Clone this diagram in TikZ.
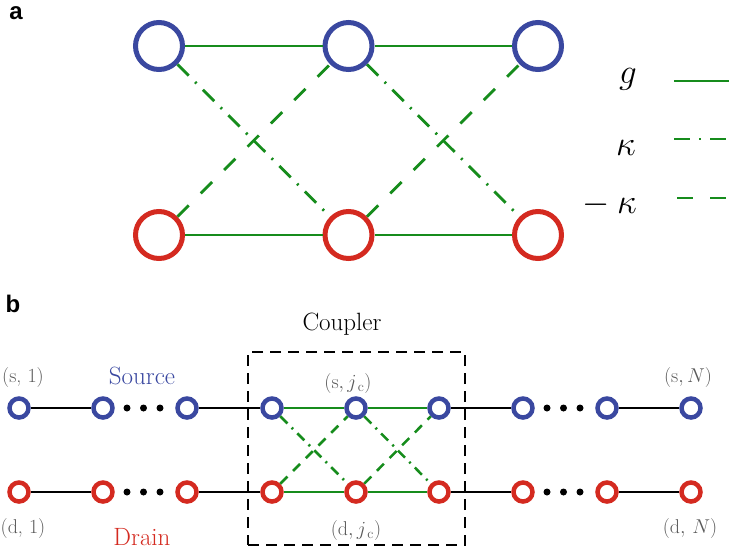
\RequirePackage{fix-cm}
\documentclass[tikz,border=0pt]{standalone}
\usepackage{fontspec}
\newfontfamily\labelfont{Liberation Sans}
\definecolor{nblue}{RGB}{58,72,160}
\definecolor{nred}{RGB}{212,42,32}
\definecolor{ngreen}{RGB}{22,140,28}
\definecolor{ngray}{RGB}{90,90,90}
\tikzset{
  ca/.style={circle, draw, line width=5pt, minimum size=47pt, inner sep=0pt},
  cb/.style={circle, draw, line width=4.5pt, minimum size=19pt, inner sep=0pt},
  gline/.style={draw=ngreen, line width=2.8pt},
  kap/.style={gline, dash pattern=on 16pt off 9pt on 2pt off 9pt},
  mkap/.style={gline, dash pattern=on 16pt off 17pt},
  gbl/.style={draw=ngreen, line width=2.5pt},
  kapb/.style={gbl, dash pattern=on 10pt off 6pt on 2pt off 6pt},
  mkapb/.style={gbl, dash pattern=on 10pt off 8pt},
  blk/.style={draw=black, line width=2.8pt},
  panel/.style={font=\labelfont\bfseries\fontsize{24}{26}\selectfont, anchor=base, inner sep=0pt},
  sym/.style={font=\fontsize{35}{40}\selectfont, anchor=base, inner sep=0pt},
  idx/.style={font=\fontsize{20}{24}\selectfont, text=ngray, anchor=base, inner sep=0pt},
  big/.style={font=\fontsize{25}{30}\selectfont, anchor=base, inner sep=0pt},
  dotb/.style={circle, fill=black, minimum size=7pt, inner sep=0pt},
}
\begin{document}
\begin{tikzpicture}[x=1pt, y=-1pt]
\useasboundingbox (0,0) rectangle (729,550);
% ---------- panel a ----------
\node[panel] (la) at (16,19) {a};
\node[ca, draw=nblue] (t1) at (159,46) {};
\node[ca, draw=nblue] (t2) at (348.5,46) {};
\node[ca, draw=nblue] (t3) at (538,46) {};
\node[ca, draw=nred] (u1) at (159,235) {};
\node[ca, draw=nred] (u2) at (348.5,235) {};
\node[ca, draw=nred] (u3) at (538,235) {};
\draw[gline] (t1) -- (t2);
\draw[gline] (t2) -- (t3);
\draw[gline] (u1) -- (u2);
\draw[gline] (u2) -- (u3);
\draw[kap] (t1) -- (u2);
\draw[kap] (t2) -- (u3);
\draw[mkap] (u1) -- (t2);
\draw[mkap] (u2) -- (t3);
% legend
\node[sym] (lg) at (628,83) {$g$};
\node[sym] (lk) at (626,155) {$\kappa$};
\node[sym, anchor=base east] (lmk) at (637,213) {$-\mskip\medmuskip\kappa$};
\coordinate (g0) at (674,81);  \coordinate (g1) at (729,81);
\coordinate (k0) at (674,139); \coordinate (k1) at (729,139);
\coordinate (m0) at (677,198); \coordinate (m1) at (729,198);
\draw[gline] (g0) -- (g1);
\draw[kap] (k0) -- (k1);
\draw[mkap] (m0) -- (m1);
% ---------- panel b ----------
\node[panel] (lb) at (13,312) {b};
\node[draw, dash pattern=on 11pt off 7pt, line width=1.3pt, minimum width=217pt, minimum height=193pt, inner sep=0pt] (box) at (356.5,448.5) {};
\node[big] (coupler) at (342,330) {Coupler};
\foreach \i/\x in {1/19,2/103,3/187,4/272,5/356,6/439,7/523,8/607,9/691}{
  \node[cb, draw=nblue] (s\i) at (\x,408) {};
  \node[cb, draw=nred] (d\i) at (\x,492) {};
}
\foreach \r in {s,d}{
  \draw[blk] (\r1) -- (\r2);
  \draw[blk] (\r3) -- (\r4);
  \draw[blk] (\r6) -- (\r7);
  \draw[blk] (\r8) -- (\r9);
  \draw[gbl] (\r4) -- (\r5);
  \draw[gbl] (\r5) -- (\r6);
}
\foreach \y/\r in {408/s,492/d}{
  \node[dotb] (\r a1) at (127,\y) {};
  \node[dotb] (\r a2) at (143.5,\y) {};
  \node[dotb] (\r a3) at (160,\y) {};
  \node[dotb] (\r b1) at (547,\y) {};
  \node[dotb] (\r b2) at (563.5,\y) {};
  \node[dotb] (\r b3) at (580,\y) {};
}
\draw[kapb] (s4) -- (d5);
\draw[kapb] (s5) -- (d6);
\draw[mkapb] (d4) -- (s5);
\draw[mkapb] (d5) -- (s6);
% labels
\node[idx] (ls1) at (23,382) {(s, 1)};
\node[idx] (ld1) at (23,533) {(d, 1)};
\node[idx] (lsj) at (348,388) {$(\mathrm{s},j_{\,\mathrm{c}})$};
\node[idx] (ldj) at (356,535) {$(\mathrm{d},j_{\,\mathrm{c}})$};
\node[idx] (lsN) at (688,382) {$(\mathrm{s},N)$};
\node[idx] (ldN) at (690,533) {$(\mathrm{d},\,N)$};
\node[big, text=nblue] (src) at (142,384) {Source};
\node[big, text=nred] (drn) at (142,545) {Drain};
\end{tikzpicture}
\end{document}
